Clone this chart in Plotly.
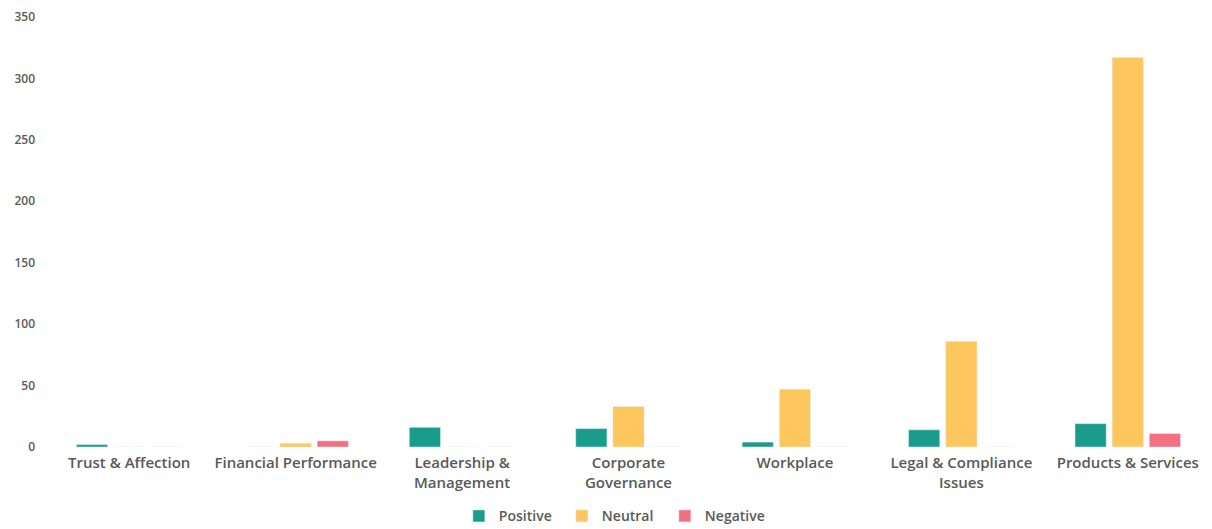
import plotly.graph_objects as go

categories = ["Trust & Affection", "Financial Performance", "Leadership &<br>Management",
              "Corporate<br>Governance", "Workplace", "Legal & Compliance<br>Issues",
              "Products & Services"]
positive = [2, 0, 16, 15, 4, 14, 19]
neutral = [0, 3, 0, 33, 47, 86, 317]
negative = [0, 5, 0, 0, 0, 0, 11]
y_ticks = [0, 50, 100, 150, 200, 250, 300, 350]

fig = go.Figure()
fig.add_trace(go.Bar(name="Positive", x=categories, y=positive, marker_color="#1A9C8C"))
fig.add_trace(go.Bar(name="Neutral", x=categories, y=neutral, marker_color="#FDC75E"))
fig.add_trace(go.Bar(name="Negative", x=categories, y=negative, marker_color="#F2707F"))

fig.update_layout(
    width=1212, height=529,
    margin=dict(l=46, r=1, t=17, b=82, autoexpand=False),
    barmode="group", bargap=0.33, bargroupgap=0.16,
    plot_bgcolor="white", paper_bgcolor="white",
    font=dict(family="Open Sans", size=13, color="#595959", weight=600),
    legend=dict(orientation="h", x=0.487, xanchor="center", yref="container",
                y=0.024, yanchor="middle",
                font=dict(size=14, color="#595959", weight=600), itemwidth=30,
                traceorder="normal", entrywidth=58, tracegroupgap=0),
    xaxis=dict(showgrid=False, showline=False, zeroline=False, ticks="",
               tickfont=dict(size=15, color="#595959", weight=600), tickangle=0,
               ticklabelstandoff=5),
    yaxis=dict(range=[0, 350], tickvals=y_ticks, showgrid=False, showline=False,
               zeroline=False, ticks="", tickfont=dict(size=12, color="#595959", weight=600),
               ticklabelstandoff=10),
)
fig.write_html("out.html")
